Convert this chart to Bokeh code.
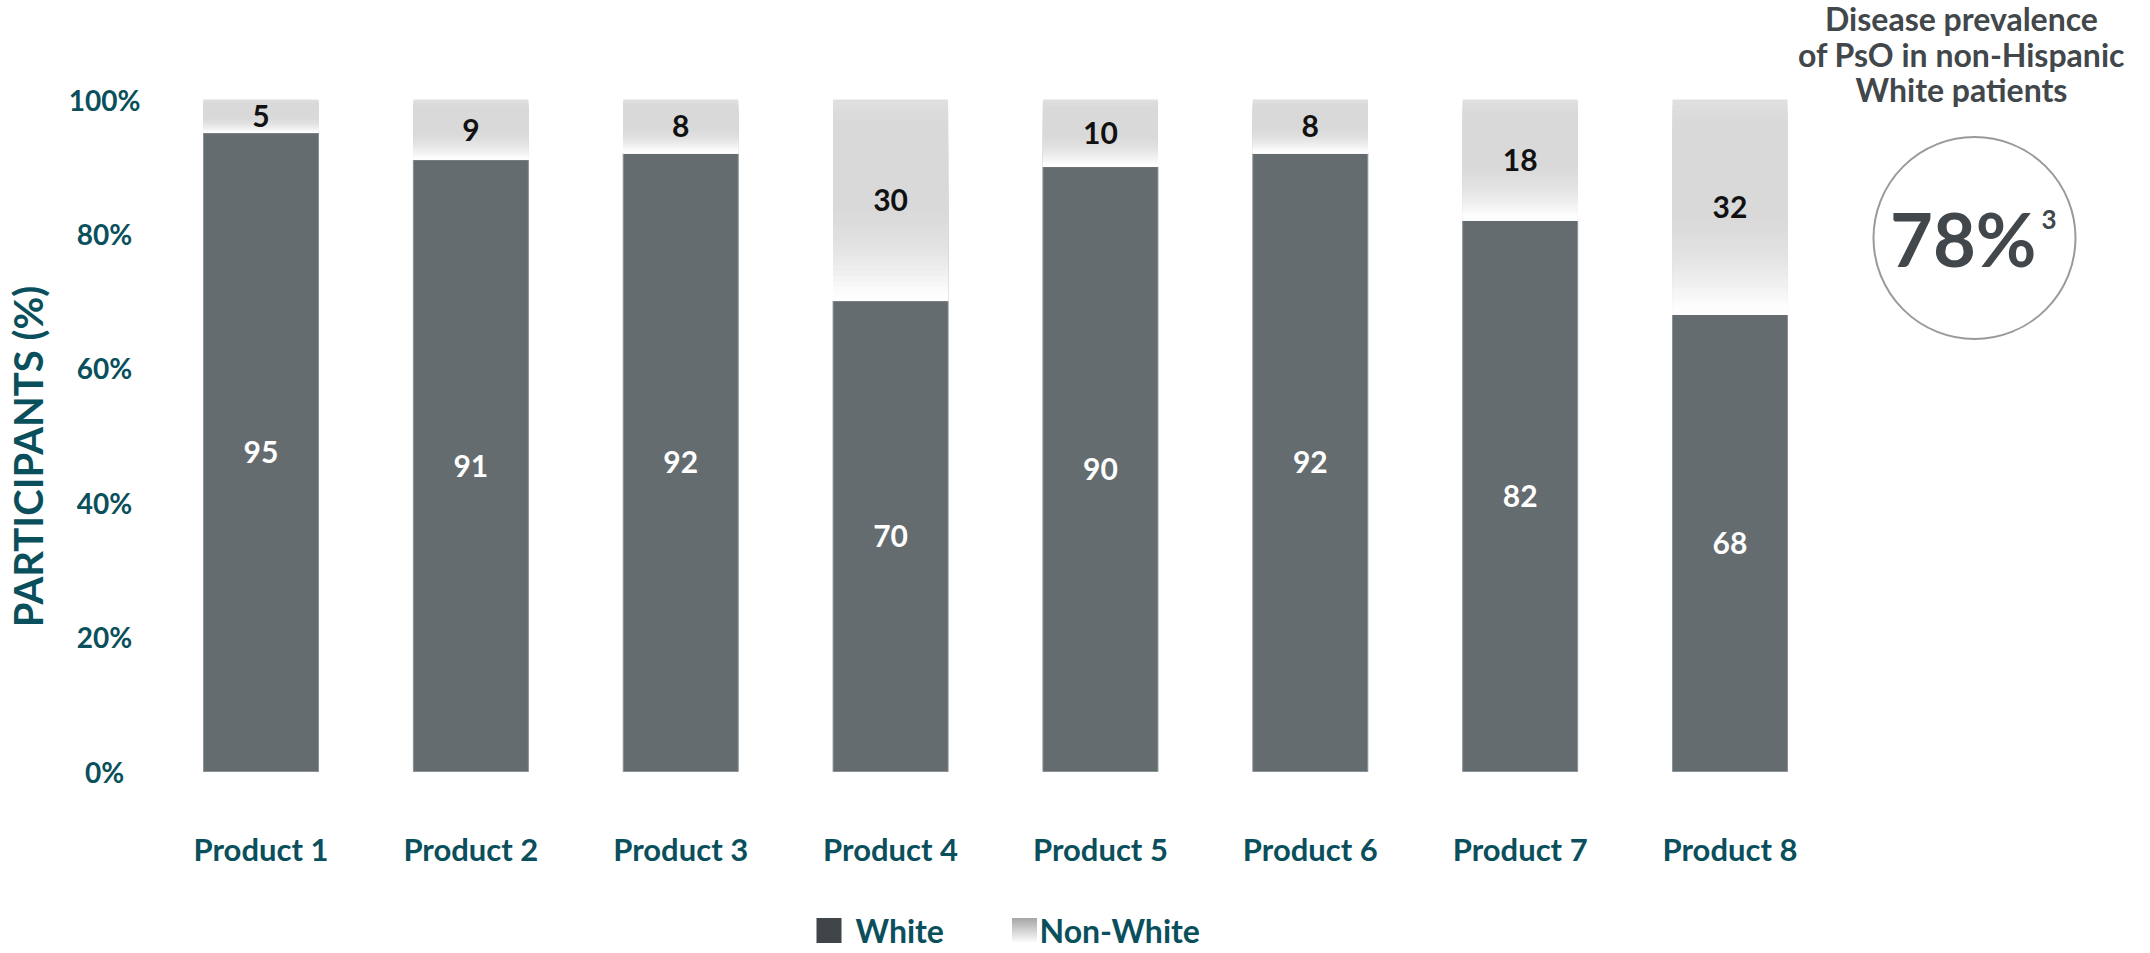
import numpy as np
from bokeh.plotting import figure
from bokeh.models import Range1d, ColumnDataSource
from bokeh.core.properties import value
from bokeh.embed import file_html
from bokeh.resources import INLINE

# ---------------- data ----------------
products = ["Product 1", "Product 2", "Product 3", "Product 4",
            "Product 5", "Product 6", "Product 7", "Product 8"]
white = [95, 91, 92, 70, 90, 92, 82, 68]
non_white = [5, 9, 8, 30, 10, 8, 18, 32]
y_ticks = [0, 20, 40, 60, 80, 100]
y_tick_labels = ["0%", "20%", "40%", "60%", "80%", "100%"]
y_title = "PARTICIPANTS (%)"
legend_labels = ["White", "Non-White"]
side_lines = ["Disease prevalence", "of PsO in non-Hispanic", "White patients"]
prevalence_text = "78%"
prevalence_ref = "3"

# ---------------- styling ----------------
FONT = value("Lato")
TEAL = "#0a505c"
DARK = "#41474a"
BAR = "#656c6f"
BAR_EDGE = "#8a9093"

W, H = 2150, 953
PX_X = 209.86   # pixels per category slot
PX_Y = 6.72     # pixels per percent
X0 = 260.5      # pixel x of first category centre
Y0 = 771.0      # pixel y of 0 %

def fx(px):  # pixel -> data x
    return (px - X0) / PX_X

def fy(py):  # pixel -> data y
    return (Y0 - py) / PX_Y

p = figure(width=W, height=H, output_backend="svg", toolbar_location=None,
           x_range=Range1d(fx(0), fx(W)), y_range=Range1d(fy(H), fy(0)),
           min_border=0, outline_line_color=None)
p.axis.visible = False
p.grid.visible = False
p.background_fill_color = "white"
p.border_fill_color = "white"

xs = list(range(len(products)))
bw = 115 / PX_X

# White bars
src_w = ColumnDataSource(dict(x=xs, top=white, mid=[w / 2 for w in white],
                              lab=[str(v) for v in white]))
p.vbar(x="x", top="top", bottom=0, width=bw, source=src_w,
       fill_color=BAR, line_color=BAR_EDGE, line_width=1)

# Non-white bars as a vertical gradient (light grey fading to white)
def grey(t):
    g = np.interp(t, [0, 0.12, 0.55, 0.72, 0.86, 0.95, 1.0],
                  [224, 217, 217, 226, 240, 252, 255])
    g = int(round(g))
    return "#%02x%02x%02x" % (g, g, g)

N = 40
gx, gt, gb, gc = [], [], [], []
for i, (w, n) in enumerate(zip(white, non_white)):
    top = w + n
    for k in range(N):
        gx.append(i)
        gt.append(top - n * k / N)
        gb.append(w)            # each slice reaches the segment bottom: no seams
        gc.append(grey((k + 0.5) / N))
p.vbar(x=gx, top=gt, bottom=gb, width=bw, fill_color=gc, line_color=None)

# value labels
p.text(x="x", y="mid", text="lab", source=src_w, text_color="white",
       text_font=FONT, text_font_style="bold", text_font_size=value("30px"),
       text_align="center", text_baseline="middle")
src_n = ColumnDataSource(dict(x=xs, y=[w + n / 2 for w, n in zip(white, non_white)],
                              lab=[str(v) for v in non_white]))
p.text(x="x", y="y", text="lab", source=src_n, text_color="#111111",
       text_font=FONT, text_font_style="bold", text_font_size=value("30px"),
       text_align="center", text_baseline="middle")

# y tick labels
p.text(x=[fx(104)] * len(y_ticks), y=y_ticks, text=y_tick_labels, text_color=TEAL,
       text_font=FONT, text_font_style="bold", text_font_size=value("28px"),
       text_align="center", text_baseline="middle")

# y title
p.text(x=[fx(27)], y=[fy(456)], text=[y_title], angle=np.pi / 2, text_color=TEAL,
       text_font=FONT, text_font_style="bold", text_font_size=value("40px"),
       text_align="center", text_baseline="middle")

# category labels
p.text(x=xs, y=[fy(848)] * len(xs), text=products, text_color=TEAL,
       text_font=FONT, text_font_style="bold", text_font_size=value("31px"),
       text_align="center", text_baseline="middle")

# legend
lg_y = fy(930)
sq = 25
p.rect(x=[fx(828.5)], y=[lg_y], width=sq / PX_X, height=sq / PX_Y,
       fill_color="#3f4548", line_color=None)
M = 20
lx, ltop, lbot, lc = [], [], [], []
for k in range(M):
    t = (k + 0.5) / M
    g = int(round(165 + (255 - 165) * t))
    lx.append(fx(1024))
    ltop.append(lg_y + sq / 2 / PX_Y - sq / PX_Y * k / M)
    lbot.append(lg_y - sq / 2 / PX_Y)
    lc.append("#%02x%02x%02x" % (g, g, g))
p.vbar(x=lx, top=ltop, bottom=lbot, width=sq / PX_X, fill_color=lc, line_color=None)
p.text(x=[fx(855), fx(1039)], y=[lg_y, lg_y], text=legend_labels, text_color=TEAL,
       text_font=FONT, text_font_style="bold", text_font_size=value("32px"),
       text_align="left", text_baseline="middle")

# side annotation
p.text(x=[fx(1961)] * 3, y=[fy(18), fy(54), fy(89)], text=side_lines,
       text_color=DARK, text_font=FONT, text_font_style="bold",
       text_font_size=value("32px"), text_align="center", text_baseline="middle")
p.scatter(x=[fx(1974)], y=[fy(237.5)], size=202, marker="circle",
          fill_color=None, line_color="#9a9a9a", line_width=2)
p.text(x=[fx(2036)], y=[fy(238)], text=[prevalence_text], text_color=DARK,
       text_font=FONT, text_font_style="bold", text_font_size=value("74px"),
       text_align="right", text_baseline="middle")
p.text(x=[fx(2041)], y=[fy(219)], text=[prevalence_ref], text_color=DARK,
       text_font=FONT, text_font_style="bold", text_font_size=value("26px"),
       text_align="left", text_baseline="middle")

open("out.html", "w").write(file_html(p, INLINE))
